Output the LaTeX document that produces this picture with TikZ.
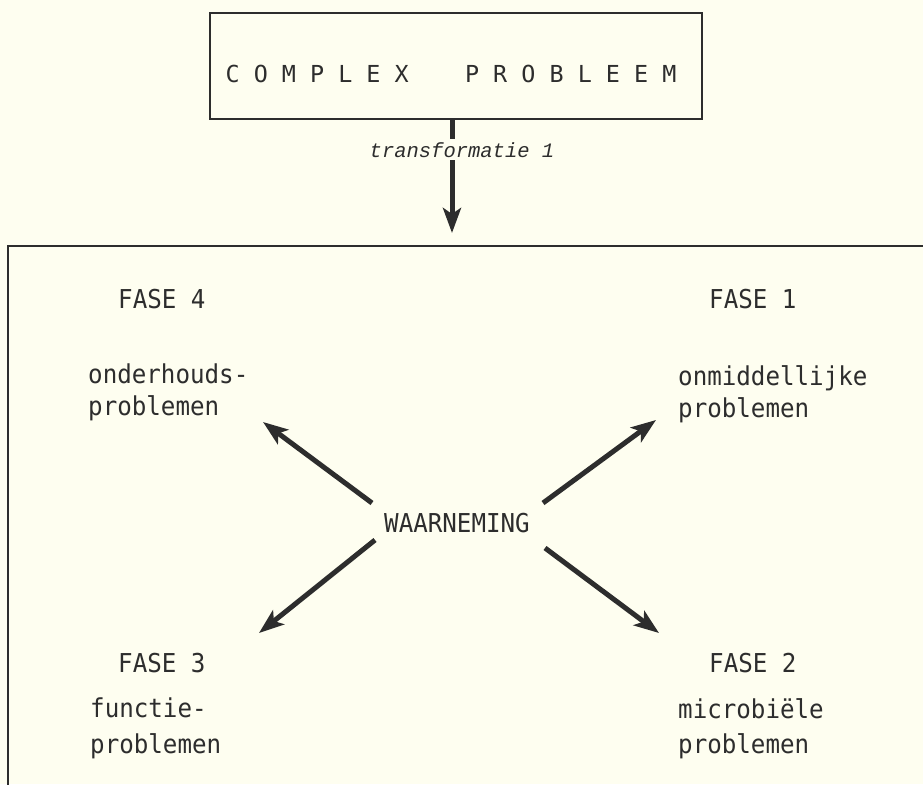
\documentclass[tikz,border=0pt]{standalone}
\usepackage{fontspec}
\usetikzlibrary{arrows.meta}
\newfontfamily\monofont{DejaVu Sans Mono}
\newfontfamily\narrowfont[FakeStretch=0.93]{DejaVu Sans Mono}
\newfontfamily\typefont{Liberation Mono}
\definecolor{paper}{RGB}{254,254,240}
\definecolor{ink}{RGB}{45,45,45}
\begin{document}
\begin{tikzpicture}[x=1pt,y=-1pt,
  lbl/.style={anchor=base west, inner sep=0pt, text=ink, font=\narrowfont\fontsize{26}{30}\selectfont},
  fat/.style={draw=ink, line width=5pt, -{Stealth[length=25pt,width=18pt,inset=6pt]}},
  frame/.style={draw=ink, line width=2pt}]
\useasboundingbox (0,0) rectangle (923,784);
\fill[paper] (0,0) rectangle (923,784);
% boxes
\node[frame, minimum width=492pt, minimum height=105pt, inner sep=0pt] (top) at (456,66) {};
\node[anchor=base, inner sep=0pt, text=ink, font=\monofont\fontsize{23.4}{27}\selectfont] (title) at (451,82) {C O M P L E X\ \ \ \ P R O B L E E M};
\begin{scope}
  \clip (0,0) rectangle (923,784);
  \node[frame, anchor=north west, minimum width=940pt, minimum height=560pt, inner sep=0pt] (stage) at (7,245) {};
\end{scope}
% transformation arrow
\coordinate (tipT) at (452,233);
\draw[fat] (tipT |- top.south) -- (tipT);
\node[fill=paper, anchor=base, inner xsep=1pt, inner ysep=3pt, text=ink, font=\typefont\itshape\fontsize{20.5}{24}\selectfont] (tlabel) at (462,157) {transformatie 1};
% labels
\node[lbl] (f4) at (118,308) {FASE 4};
\node[lbl] (l4a) at (88,383) {onderhouds-};
\node[lbl] (l4b) at (88,415) {problemen};
\node[lbl] (f1) at (709,308) {FASE 1};
\node[lbl] (l1a) at (678,385) {onmiddellijke};
\node[lbl] (l1b) at (678,417) {problemen};
\node[lbl] (f3) at (118,672) {FASE 3};
\node[lbl] (l3a) at (90,717) {functie-};
\node[lbl] (l3b) at (90,753) {problemen};
\node[lbl] (f2) at (709,672) {FASE 2};
\node[lbl] (l2a) at (678,718) {microbiële};
\node[lbl] (l2b) at (678,753) {problemen};
\node[lbl, anchor=base] (w) at (457,532) {WAARNEMING};
% diagonal arrows
\coordinate (sNW) at (372,503);
\coordinate (tNW) at (263,422);
\coordinate (sNE) at (543,503);
\coordinate (tNE) at (656,420);
\coordinate (sSW) at (375,540);
\coordinate (tSW) at (259,633);
\coordinate (sSE) at (545,548);
\coordinate (tSE) at (659,633);
\draw[fat] (sNW) -- (tNW);
\draw[fat] (sNE) -- (tNE);
\draw[fat] (sSW) -- (tSW);
\draw[fat] (sSE) -- (tSE);
\end{tikzpicture}
\end{document}
